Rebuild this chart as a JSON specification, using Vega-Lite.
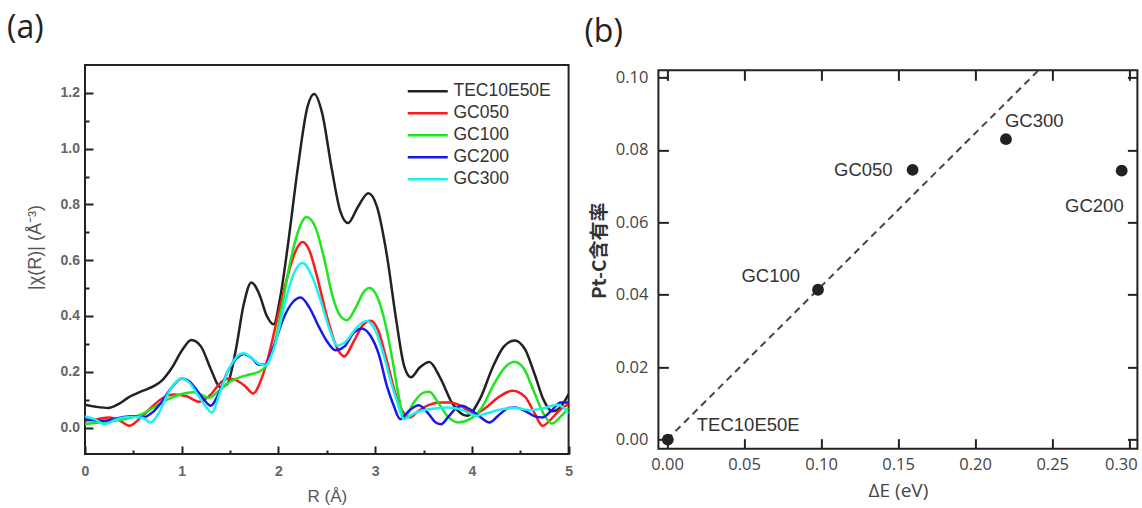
{
  "$schema": "https://vega.github.io/schema/vega-lite/v6.json",
  "background": "white",
  "padding": {"left": 6, "top": 11, "right": 0, "bottom": 0},
  "config": {"view": {"stroke": "#222", "strokeWidth": 2}, "axis": {"domain": false, "grid": false}},
  "datasets": {
    "exafs": [
      {"s":"TEC10E50E","r":0,"v":0.082},{"s":"TEC10E50E","r":0.12,"v":0.074},{"s":"TEC10E50E","r":0.24,"v":0.07},{"s":"TEC10E50E","r":0.35,"v":0.085},{"s":"TEC10E50E","r":0.45,"v":0.108},{"s":"TEC10E50E","r":0.6,"v":0.132},{"s":"TEC10E50E","r":0.72,"v":0.15},{"s":"TEC10E50E","r":0.8,"v":0.17},{"s":"TEC10E50E","r":0.9,"v":0.215},{"s":"TEC10E50E","r":1.0,"v":0.275},{"s":"TEC10E50E","r":1.1,"v":0.314},{"s":"TEC10E50E","r":1.2,"v":0.29},{"s":"TEC10E50E","r":1.3,"v":0.21},{"s":"TEC10E50E","r":1.4,"v":0.145},{"s":"TEC10E50E","r":1.47,"v":0.155},{"s":"TEC10E50E","r":1.56,"v":0.28},{"s":"TEC10E50E","r":1.64,"v":0.44},{"s":"TEC10E50E","r":1.72,"v":0.52},{"s":"TEC10E50E","r":1.8,"v":0.48},{"s":"TEC10E50E","r":1.88,"v":0.4},{"s":"TEC10E50E","r":1.95,"v":0.37},{"s":"TEC10E50E","r":2.02,"v":0.47},{"s":"TEC10E50E","r":2.1,"v":0.66},{"s":"TEC10E50E","r":2.2,"v":0.93},{"s":"TEC10E50E","r":2.3,"v":1.15},{"s":"TEC10E50E","r":2.37,"v":1.196},{"s":"TEC10E50E","r":2.45,"v":1.13},{"s":"TEC10E50E","r":2.55,"v":0.93},{"s":"TEC10E50E","r":2.64,"v":0.775},{"s":"TEC10E50E","r":2.72,"v":0.733},{"s":"TEC10E50E","r":2.82,"v":0.79},{"s":"TEC10E50E","r":2.93,"v":0.84},{"s":"TEC10E50E","r":3.02,"v":0.79},{"s":"TEC10E50E","r":3.12,"v":0.62},{"s":"TEC10E50E","r":3.22,"v":0.38},{"s":"TEC10E50E","r":3.3,"v":0.22},{"s":"TEC10E50E","r":3.37,"v":0.18},{"s":"TEC10E50E","r":3.46,"v":0.215},{"s":"TEC10E50E","r":3.56,"v":0.235},{"s":"TEC10E50E","r":3.67,"v":0.18},{"s":"TEC10E50E","r":3.8,"v":0.085},{"s":"TEC10E50E","r":3.95,"v":0.042},{"s":"TEC10E50E","r":4.08,"v":0.1},{"s":"TEC10E50E","r":4.22,"v":0.22},{"s":"TEC10E50E","r":4.33,"v":0.29},{"s":"TEC10E50E","r":4.44,"v":0.312},{"s":"TEC10E50E","r":4.55,"v":0.28},{"s":"TEC10E50E","r":4.65,"v":0.19},{"s":"TEC10E50E","r":4.74,"v":0.1},{"s":"TEC10E50E","r":4.83,"v":0.058},{"s":"TEC10E50E","r":4.92,"v":0.075},{"s":"TEC10E50E","r":5.0,"v":0.12},
      {"s":"GC050","r":0,"v":0.024},{"s":"GC050","r":0.12,"v":0.03},{"s":"GC050","r":0.25,"v":0.036},{"s":"GC050","r":0.36,"v":0.025},{"s":"GC050","r":0.46,"v":0.006},{"s":"GC050","r":0.56,"v":0.03},{"s":"GC050","r":0.68,"v":0.07},{"s":"GC050","r":0.8,"v":0.105},{"s":"GC050","r":0.92,"v":0.118},{"s":"GC050","r":1.05,"v":0.112},{"s":"GC050","r":1.18,"v":0.092},{"s":"GC050","r":1.3,"v":0.118},{"s":"GC050","r":1.4,"v":0.16},{"s":"GC050","r":1.48,"v":0.176},{"s":"GC050","r":1.56,"v":0.17},{"s":"GC050","r":1.65,"v":0.15},{"s":"GC050","r":1.74,"v":0.122},{"s":"GC050","r":1.82,"v":0.17},{"s":"GC050","r":1.9,"v":0.26},{"s":"GC050","r":2.0,"v":0.41},{"s":"GC050","r":2.1,"v":0.55},{"s":"GC050","r":2.18,"v":0.635},{"s":"GC050","r":2.25,"v":0.665},{"s":"GC050","r":2.32,"v":0.635},{"s":"GC050","r":2.4,"v":0.54},{"s":"GC050","r":2.5,"v":0.4},{"s":"GC050","r":2.6,"v":0.29},{"s":"GC050","r":2.68,"v":0.255},{"s":"GC050","r":2.78,"v":0.31},{"s":"GC050","r":2.88,"v":0.37},{"s":"GC050","r":2.95,"v":0.383},{"s":"GC050","r":3.03,"v":0.35},{"s":"GC050","r":3.12,"v":0.24},{"s":"GC050","r":3.22,"v":0.11},{"s":"GC050","r":3.3,"v":0.05},{"s":"GC050","r":3.36,"v":0.036},{"s":"GC050","r":3.45,"v":0.06},{"s":"GC050","r":3.55,"v":0.08},{"s":"GC050","r":3.66,"v":0.09},{"s":"GC050","r":3.78,"v":0.09},{"s":"GC050","r":3.9,"v":0.075},{"s":"GC050","r":4.02,"v":0.048},{"s":"GC050","r":4.14,"v":0.07},{"s":"GC050","r":4.28,"v":0.11},{"s":"GC050","r":4.42,"v":0.132},{"s":"GC050","r":4.55,"v":0.11},{"s":"GC050","r":4.65,"v":0.05},{"s":"GC050","r":4.73,"v":0.006},{"s":"GC050","r":4.82,"v":0.03},{"s":"GC050","r":4.9,"v":0.06},{"s":"GC050","r":5.0,"v":0.084},
      {"s":"GC100","r":0,"v":0.012},{"s":"GC100","r":0.15,"v":0.018},{"s":"GC100","r":0.3,"v":0.024},{"s":"GC100","r":0.48,"v":0.036},{"s":"GC100","r":0.6,"v":0.05},{"s":"GC100","r":0.7,"v":0.07},{"s":"GC100","r":0.85,"v":0.1},{"s":"GC100","r":1.0,"v":0.12},{"s":"GC100","r":1.12,"v":0.126},{"s":"GC100","r":1.2,"v":0.118},{"s":"GC100","r":1.28,"v":0.106},{"s":"GC100","r":1.38,"v":0.13},{"s":"GC100","r":1.48,"v":0.16},{"s":"GC100","r":1.6,"v":0.18},{"s":"GC100","r":1.7,"v":0.19},{"s":"GC100","r":1.8,"v":0.2},{"s":"GC100","r":1.88,"v":0.225},{"s":"GC100","r":1.96,"v":0.3},{"s":"GC100","r":2.04,"v":0.44},{"s":"GC100","r":2.12,"v":0.59},{"s":"GC100","r":2.2,"v":0.7},{"s":"GC100","r":2.29,"v":0.755},{"s":"GC100","r":2.38,"v":0.72},{"s":"GC100","r":2.47,"v":0.61},{"s":"GC100","r":2.56,"v":0.47},{"s":"GC100","r":2.64,"v":0.4},{"s":"GC100","r":2.71,"v":0.385},{"s":"GC100","r":2.8,"v":0.43},{"s":"GC100","r":2.88,"v":0.485},{"s":"GC100","r":2.94,"v":0.5},{"s":"GC100","r":3.02,"v":0.47},{"s":"GC100","r":3.1,"v":0.38},{"s":"GC100","r":3.18,"v":0.24},{"s":"GC100","r":3.24,"v":0.12},{"s":"GC100","r":3.3,"v":0.035},{"s":"GC100","r":3.4,"v":0.09},{"s":"GC100","r":3.5,"v":0.125},{"s":"GC100","r":3.56,"v":0.128},{"s":"GC100","r":3.65,"v":0.09},{"s":"GC100","r":3.75,"v":0.04},{"s":"GC100","r":3.86,"v":0.018},{"s":"GC100","r":3.98,"v":0.03},{"s":"GC100","r":4.1,"v":0.07},{"s":"GC100","r":4.22,"v":0.15},{"s":"GC100","r":4.34,"v":0.215},{"s":"GC100","r":4.44,"v":0.236},{"s":"GC100","r":4.54,"v":0.21},{"s":"GC100","r":4.64,"v":0.13},{"s":"GC100","r":4.74,"v":0.05},{"s":"GC100","r":4.83,"v":0.014},{"s":"GC100","r":4.92,"v":0.04},{"s":"GC100","r":5.0,"v":0.07},
      {"s":"GC200","r":0,"v":0.03},{"s":"GC200","r":0.1,"v":0.026},{"s":"GC200","r":0.2,"v":0.024},{"s":"GC200","r":0.3,"v":0.03},{"s":"GC200","r":0.4,"v":0.038},{"s":"GC200","r":0.5,"v":0.04},{"s":"GC200","r":0.6,"v":0.036},{"s":"GC200","r":0.7,"v":0.055},{"s":"GC200","r":0.8,"v":0.095},{"s":"GC200","r":0.9,"v":0.145},{"s":"GC200","r":1.0,"v":0.176},{"s":"GC200","r":1.08,"v":0.165},{"s":"GC200","r":1.16,"v":0.132},{"s":"GC200","r":1.23,"v":0.1},{"s":"GC200","r":1.3,"v":0.078},{"s":"GC200","r":1.38,"v":0.12},{"s":"GC200","r":1.48,"v":0.204},{"s":"GC200","r":1.56,"v":0.245},{"s":"GC200","r":1.64,"v":0.264},{"s":"GC200","r":1.72,"v":0.25},{"s":"GC200","r":1.8,"v":0.225},{"s":"GC200","r":1.86,"v":0.225},{"s":"GC200","r":1.95,"v":0.29},{"s":"GC200","r":2.05,"v":0.39},{"s":"GC200","r":2.15,"v":0.45},{"s":"GC200","r":2.23,"v":0.466},{"s":"GC200","r":2.32,"v":0.43},{"s":"GC200","r":2.42,"v":0.36},{"s":"GC200","r":2.5,"v":0.31},{"s":"GC200","r":2.59,"v":0.277},{"s":"GC200","r":2.68,"v":0.29},{"s":"GC200","r":2.78,"v":0.34},{"s":"GC200","r":2.86,"v":0.355},{"s":"GC200","r":2.95,"v":0.33},{"s":"GC200","r":3.04,"v":0.26},{"s":"GC200","r":3.12,"v":0.15},{"s":"GC200","r":3.19,"v":0.08},{"s":"GC200","r":3.26,"v":0.03},{"s":"GC200","r":3.35,"v":0.06},{"s":"GC200","r":3.45,"v":0.08},{"s":"GC200","r":3.55,"v":0.05},{"s":"GC200","r":3.62,"v":0.02},{"s":"GC200","r":3.68,"v":0.012},{"s":"GC200","r":3.76,"v":0.04},{"s":"GC200","r":3.84,"v":0.07},{"s":"GC200","r":3.9,"v":0.078},{"s":"GC200","r":3.98,"v":0.065},{"s":"GC200","r":4.08,"v":0.04},{"s":"GC200","r":4.18,"v":0.018},{"s":"GC200","r":4.28,"v":0.045},{"s":"GC200","r":4.38,"v":0.07},{"s":"GC200","r":4.45,"v":0.072},{"s":"GC200","r":4.55,"v":0.06},{"s":"GC200","r":4.65,"v":0.04},{"s":"GC200","r":4.73,"v":0.036},{"s":"GC200","r":4.82,"v":0.06},{"s":"GC200","r":4.92,"v":0.09},{"s":"GC200","r":5.0,"v":0.09},
      {"s":"GC300","r":0,"v":0.04},{"s":"GC300","r":0.1,"v":0.03},{"s":"GC300","r":0.2,"v":0.012},{"s":"GC300","r":0.3,"v":0.025},{"s":"GC300","r":0.4,"v":0.036},{"s":"GC300","r":0.5,"v":0.038},{"s":"GC300","r":0.6,"v":0.034},{"s":"GC300","r":0.68,"v":0.018},{"s":"GC300","r":0.76,"v":0.05},{"s":"GC300","r":0.84,"v":0.108},{"s":"GC300","r":0.92,"v":0.155},{"s":"GC300","r":1.0,"v":0.176},{"s":"GC300","r":1.08,"v":0.16},{"s":"GC300","r":1.16,"v":0.12},{"s":"GC300","r":1.24,"v":0.08},{"s":"GC300","r":1.31,"v":0.054},{"s":"GC300","r":1.4,"v":0.13},{"s":"GC300","r":1.48,"v":0.204},{"s":"GC300","r":1.56,"v":0.25},{"s":"GC300","r":1.64,"v":0.266},{"s":"GC300","r":1.72,"v":0.25},{"s":"GC300","r":1.8,"v":0.228},{"s":"GC300","r":1.86,"v":0.222},{"s":"GC300","r":1.95,"v":0.28},{"s":"GC300","r":2.05,"v":0.42},{"s":"GC300","r":2.15,"v":0.545},{"s":"GC300","r":2.25,"v":0.59},{"s":"GC300","r":2.35,"v":0.54},{"s":"GC300","r":2.45,"v":0.44},{"s":"GC300","r":2.53,"v":0.35},{"s":"GC300","r":2.61,"v":0.294},{"s":"GC300","r":2.7,"v":0.31},{"s":"GC300","r":2.8,"v":0.355},{"s":"GC300","r":2.91,"v":0.382},{"s":"GC300","r":3.0,"v":0.35},{"s":"GC300","r":3.08,"v":0.27},{"s":"GC300","r":3.15,"v":0.18},{"s":"GC300","r":3.22,"v":0.1},{"s":"GC300","r":3.3,"v":0.03},{"s":"GC300","r":3.4,"v":0.05},{"s":"GC300","r":3.5,"v":0.062},{"s":"GC300","r":3.62,"v":0.068},{"s":"GC300","r":3.75,"v":0.072},{"s":"GC300","r":3.88,"v":0.065},{"s":"GC300","r":3.98,"v":0.05},{"s":"GC300","r":4.05,"v":0.042},{"s":"GC300","r":4.15,"v":0.05},{"s":"GC300","r":4.3,"v":0.065},{"s":"GC300","r":4.45,"v":0.07},{"s":"GC300","r":4.6,"v":0.062},{"s":"GC300","r":4.75,"v":0.07},{"s":"GC300","r":4.88,"v":0.082},{"s":"GC300","r":4.95,"v":0.07},{"s":"GC300","r":5.0,"v":0.05}
    ],
    "pts": [
      {"name":"TEC10E50E","de":0.0005,"pc":0.0},
      {"name":"GC050","de":0.1594,"pc":0.0745},
      {"name":"GC100","de":0.098,"pc":0.0414},
      {"name":"GC200","de":0.2951,"pc":0.0743},
      {"name":"GC300","de":0.220,"pc":0.083}
    ],
    "fit": [
      {"de":0.0,"pc":0.0},
      {"de":0.2411,"pc":0.102}
    ]
  },
  "hconcat": [
    {
      "width": 483.6,
      "height": 389,
      "title": {"text": "(a)", "anchor": "start", "frame": "group", "dx": -78, "offset": -5, "baseline": "alphabetic", "font": "Open Sans", "fontSize": 32, "fontWeight": "normal", "color": "#222"},
      "data": {"name": "exafs"},
      "layer": [
        {
          "mark": {"type": "line", "interpolate": "monotone", "strokeWidth": 2.5, "clip": true},
          "encoding": {
            "x": {"field": "r", "type": "quantitative", "scale": {"domain": [0, 5], "nice": false, "zero": false},
              "axis": {"orient": "bottom", "values": [0, 1, 2, 3, 4, 5], "format": "d", "tickSize": -8, "tickWidth": 2, "tickColor": "#222", "labelPadding": 18.5, "labelFlush": false, "labelFont": "Liberation Sans", "labelFontSize": 14, "labelFontWeight": "bold", "labelColor": "#666", "title": "R (Å)", "titleFont": "Liberation Sans", "titleFontSize": 17, "titleFontWeight": "normal", "titleColor": "#555", "titlePadding": 10}},
            "y": {"field": "v", "type": "quantitative", "scale": {"domain": [-0.095, 1.3], "nice": false, "zero": false},
              "axis": {"orient": "left", "values": [0, 0.2, 0.4, 0.6, 0.8, 1.0, 1.2], "format": ".1f", "tickSize": -8, "tickWidth": 2, "tickColor": "#222", "labelPadding": 13.5, "labelFlush": false, "labelFont": "Liberation Sans", "labelFontSize": 14, "labelFontWeight": "bold", "labelColor": "#666", "title": "|χ(R)| (Å⁻³)", "titleFont": "Liberation Sans", "titleFontSize": 18, "titleFontWeight": "normal", "titleColor": "#555", "titlePadding": 16, "titleY": 182}},
            "color": {"field": "s", "type": "nominal",
              "scale": {"domain": ["TEC10E50E", "GC050", "GC100", "GC200", "GC300"], "range": ["#222222", "#ff1a1a", "#1ee61e", "#1a1ae6", "#1ef0f0"]},
              "legend": {"orient": "none", "legendX": 334, "legendY": 17.5, "title": null, "symbolType": "M-4,0L4,0", "symbolSize": 100, "symbolStrokeWidth": 2.5, "labelFont": "Liberation Sans", "labelFontSize": 17.5, "labelColor": "#333", "labelOffset": 17, "rowPadding": 3, "padding": 0}}
          }
        },
        {
          "mark": {"type": "line", "opacity": 0},
          "encoding": {
            "x": {"field": "r", "type": "quantitative", "scale": {"domain": [0, 5], "nice": false, "zero": false},
              "axis": {"orient": "bottom", "values": [0.5, 1.5, 2.5, 3.5, 4.5], "labels": false, "tickSize": -4, "tickWidth": 2, "tickColor": "#222", "title": null}},
            "y": {"field": "v", "type": "quantitative", "scale": {"domain": [-0.095, 1.3], "nice": false, "zero": false},
              "axis": {"orient": "left", "values": [0.1, 0.3, 0.5, 0.7, 0.9, 1.1], "labels": false, "tickSize": -4, "tickWidth": 2, "tickColor": "#222", "title": null}},
            "detail": {"field": "s"}
          }
        }
      ],
      "resolve": {"axis": {"x": "independent", "y": "independent"}}
    },
    {
      "width": 479,
      "height": 378.3,
      "title": {"text": "(b)", "anchor": "start", "frame": "group", "dx": -74, "offset": -5, "baseline": "alphabetic", "font": "Open Sans", "fontSize": 32, "fontWeight": "normal", "color": "#222"},
      "layer": [
        {
          "data": {"name": "fit"},
          "mark": {"type": "line", "strokeDash": [7, 5], "strokeWidth": 2, "color": "#444", "clip": true},
          "encoding": {
            "x": {"field": "de", "type": "quantitative", "scale": {"domain": [-0.0056, 0.3053], "nice": false, "zero": false},
              "axis": {"orient": "bottom", "values": [0, 0.05, 0.1, 0.15, 0.2, 0.25, 0.3], "format": ".2f", "tickSize": -10, "tickWidth": 2, "tickColor": "#222", "labelPadding": 18, "labelFlush": 8.4, "labelFlushOffset": 8, "labelFont": "Open Sans", "labelFontSize": 16.5, "labelColor": "#444", "title": "ΔE (eV)", "titleFont": "Open Sans", "titleFontSize": 19, "titleFontWeight": "normal", "titleColor": "#444", "titlePadding": 8}},
            "y": {"field": "pc", "type": "quantitative", "scale": {"domain": [-0.0025, 0.102], "nice": false, "zero": false},
              "axis": {"orient": "left", "values": [0, 0.02, 0.04, 0.06, 0.08, 0.1], "format": ".2f", "tickSize": -10, "tickWidth": 2, "tickColor": "#222", "labelPadding": 20.5, "labelFlush": false, "labelFont": "Open Sans", "labelFontSize": 16.5, "labelColor": "#444", "title": "Pt-C含有率", "titleFont": "Noto Sans CJK JP", "titleFontSize": 19, "titleFontWeight": "bold", "titleColor": "#333", "titlePadding": 6, "titleY": 180}}
          }
        },
        {
          "data": {"name": "pts"},
          "mark": {"type": "point", "filled": true, "size": 140, "color": "#222", "opacity": 1},
          "encoding": {
            "x": {"field": "de", "type": "quantitative", "scale": {"domain": [-0.0056, 0.3053], "nice": false, "zero": false},
              "axis": {"orient": "top", "values": [0, 0.05, 0.1, 0.15, 0.2, 0.25, 0.3], "labels": false, "tickSize": -10, "tickWidth": 2, "tickColor": "#222", "title": null}},
            "y": {"field": "pc", "type": "quantitative", "scale": {"domain": [-0.0025, 0.102], "nice": false, "zero": false},
              "axis": {"orient": "right", "values": [0, 0.02, 0.04, 0.06, 0.08, 0.1], "labels": false, "tickSize": -10, "tickWidth": 2, "tickColor": "#222", "title": null}}
          }
        },
        {
          "data": {"name": "pts"},
          "transform": [{"filter": "datum.name === 'GC050'"}],
          "mark": {"type": "text", "align": "right", "baseline": "middle", "dx": -20, "dy": 0, "font": "Liberation Sans", "fontSize": 18.5, "color": "#333"},
          "encoding": {"x": {"field": "de", "type": "quantitative", "axis": null}, "y": {"field": "pc", "type": "quantitative", "axis": null}, "text": {"field": "name"}}
        },
        {
          "data": {"name": "pts"},
          "transform": [{"filter": "datum.name === 'GC300'"}],
          "mark": {"type": "text", "align": "left", "baseline": "middle", "dx": -1, "dy": -18, "font": "Liberation Sans", "fontSize": 18.5, "color": "#333"},
          "encoding": {"x": {"field": "de", "type": "quantitative", "axis": null}, "y": {"field": "pc", "type": "quantitative", "axis": null}, "text": {"field": "name"}}
        },
        {
          "data": {"name": "pts"},
          "transform": [{"filter": "datum.name === 'GC200'"}],
          "mark": {"type": "text", "align": "right", "baseline": "middle", "dx": 2, "dy": 35, "font": "Liberation Sans", "fontSize": 18.5, "color": "#333"},
          "encoding": {"x": {"field": "de", "type": "quantitative", "axis": null}, "y": {"field": "pc", "type": "quantitative", "axis": null}, "text": {"field": "name"}}
        },
        {
          "data": {"name": "pts"},
          "transform": [{"filter": "datum.name === 'GC100'"}],
          "mark": {"type": "text", "align": "right", "baseline": "middle", "dx": -18, "dy": -14, "font": "Liberation Sans", "fontSize": 18.5, "color": "#333"},
          "encoding": {"x": {"field": "de", "type": "quantitative", "axis": null}, "y": {"field": "pc", "type": "quantitative", "axis": null}, "text": {"field": "name"}}
        },
        {
          "data": {"name": "pts"},
          "transform": [{"filter": "datum.name === 'TEC10E50E'"}],
          "mark": {"type": "text", "align": "left", "baseline": "middle", "dx": 29, "dy": -15, "font": "Liberation Sans", "fontSize": 18.5, "color": "#333"},
          "encoding": {"x": {"field": "de", "type": "quantitative", "axis": null}, "y": {"field": "pc", "type": "quantitative", "axis": null}, "text": {"field": "name"}}
        }
      ],
      "resolve": {"axis": {"x": "independent", "y": "independent"}}
    }
  ],
  "spacing": 89.4,
  "bounds": "flush",
  "center": true
}
